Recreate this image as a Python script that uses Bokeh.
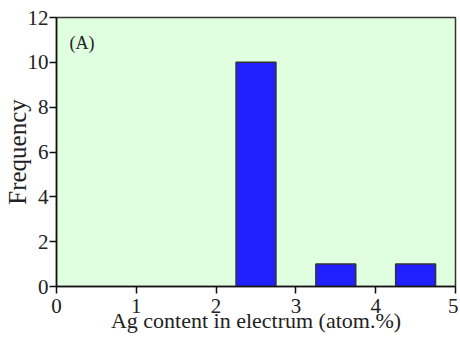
from bokeh.plotting import figure
from bokeh.models import Label, FixedTicker, Range1d
from bokeh.embed import file_html
from bokeh.resources import INLINE

# Data
bin_centers = [2.5, 3.5, 4.5]
counts = [10, 1, 1]
bin_width = 0.5
x_ticks = [0, 1, 2, 3, 4, 5]
y_ticks = [0, 2, 4, 6, 8, 10, 12]
x_label = "Ag content in electrum (atom.%)"
y_label = "Frequency"
panel_label = "(A)"

FONT = "Liberation Serif"
TXT = "#222222"

p = figure(frame_width=399, frame_height=269, output_backend="svg",
           toolbar_location=None, x_range=Range1d(0, 5), y_range=Range1d(0, 12),
           min_border_left=56, min_border_right=3, min_border_top=17, min_border_bottom=52)

p.border_fill_color = "#ffffff"
p.background_fill_color = "#e0ffe0"
p.outline_line_color = "#333333"
p.outline_line_width = 1.5
p.xgrid.visible = False
p.ygrid.visible = False

left = [c - bin_width / 2 for c in bin_centers]
right = [c + bin_width / 2 for c in bin_centers]
p.quad(left=left, right=right, bottom=0, top=counts,
       fill_color="#2020ff", line_color="#333333", line_width=1.5)

for ax in (p.xaxis[0], p.yaxis[0]):
    ax.axis_line_color = "#111111"
    ax.axis_line_width = 1.5
    ax.major_tick_line_color = "#111111"
    ax.major_tick_line_width = 1.5
    ax.major_tick_out = 7
    ax.major_tick_in = 0
    ax.minor_tick_line_color = None
    ax.major_label_text_font = FONT
    ax.major_label_text_font_size = "21px"
    ax.major_label_text_color = TXT
    ax.axis_label_text_font = FONT
    ax.axis_label_text_font_style = "normal"
    ax.axis_label_text_color = TXT

p.xaxis[0].ticker = FixedTicker(ticks=x_ticks)
p.yaxis[0].ticker = FixedTicker(ticks=y_ticks)
p.xaxis[0].axis_label = x_label
p.yaxis[0].axis_label = y_label
p.xaxis[0].axis_label_text_font_size = "22px"
p.yaxis[0].axis_label_text_font_size = "25px"
p.xaxis[0].major_label_standoff = 5
p.yaxis[0].major_label_standoff = 1
p.xaxis[0].axis_label_standoff = -8
p.yaxis[0].axis_label_standoff = -6

p.add_layout(Label(x=13, y=254, x_units="screen", y_units="screen", text=panel_label,
                   text_font=FONT, text_font_size="18px", text_color=TXT,
                   text_baseline="top"))

open("out.html", "w").write(file_html(p, INLINE))
